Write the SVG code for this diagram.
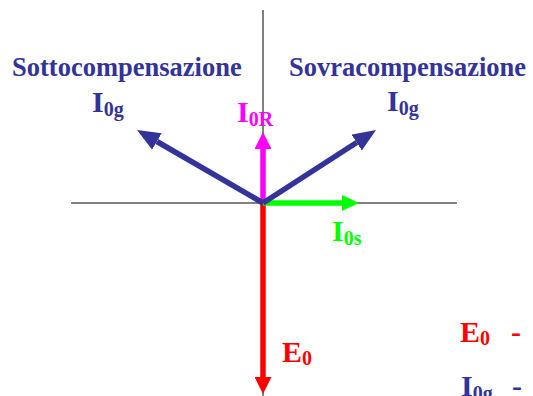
<svg xmlns="http://www.w3.org/2000/svg" width="533" height="396" viewBox="0 0 533 396">
<style>
.t{font-family:"Liberation Serif","Times New Roman",serif;font-weight:bold}
.hd{font-size:26.5px}
.big{font-size:30px}
.sub{font-size:20px}
.navy{fill:#333399}
.mag{fill:#ff00ff}
.grn{fill:#00ff00}
.red{fill:#ff0000}
.axis{stroke:#808080;stroke-width:2;fill:none}
.arr{fill:none;stroke-width:5.5;stroke-linecap:butt}
</style>
<defs>
<marker id="hNavy" markerUnits="userSpaceOnUse" markerWidth="23" markerHeight="19" refX="0" refY="9.5" orient="auto" viewBox="0 0 23 19"><path d="M0,0 L23,9.5 L0,19 z" fill="#333399"/></marker>
<marker id="hMag" markerUnits="userSpaceOnUse" markerWidth="17" markerHeight="17" refX="0" refY="8.5" orient="auto" viewBox="0 0 17 17"><path d="M0,0 L17,8.5 L0,17 z" fill="#ff00ff"/></marker>
<marker id="hGrn" markerUnits="userSpaceOnUse" markerWidth="17" markerHeight="16" refX="0" refY="8" orient="auto" viewBox="0 0 17 16"><path d="M0,0 L17,8 L0,16 z" fill="#00ff00"/></marker>
<marker id="hRed" markerUnits="userSpaceOnUse" markerWidth="17" markerHeight="17" refX="0" refY="8.5" orient="auto" viewBox="0 0 17 17"><path d="M0,0 L17,8.5 L0,17 z" fill="#ff0000"/></marker>
</defs>
<g id="axes">
<line class="axis" x1="71" y1="203" x2="457" y2="203"/>
<line class="axis" x1="263" y1="10" x2="263" y2="396"/>
</g>
<g id="connectors">
<line class="arr" stroke="#ff0000" x1="263" y1="203" x2="263" y2="377" marker-end="url(#hRed)"/>
<line class="arr" stroke="#ff00ff" x1="263" y1="203" x2="263" y2="149" marker-end="url(#hMag)"/>
<line class="arr" stroke="#00ff00" x1="263" y1="203" x2="342" y2="203" marker-end="url(#hGrn)"/>
<line class="arr" stroke="#333399" x1="263" y1="203" x2="156.9" y2="141.5" marker-end="url(#hNavy)"/>
<line class="arr" stroke="#333399" x1="263" y1="203" x2="356.7" y2="142.5" marker-end="url(#hNavy)"/>
</g>
<g id="sotto">
<text class="t navy hd" x="12" y="76">Sottocompensazione</text>
<text class="t navy" x="92" y="112"><tspan class="big">I</tspan><tspan class="sub" dy="4">0g</tspan></text>
</g>
<g id="sovra">
<text class="t navy hd" x="289" y="76">Sovracompensazione</text>
<text class="t navy" x="387" y="111"><tspan class="big">I</tspan><tspan class="sub" dy="4">0g</tspan></text>
</g>
<g id="i0r">
<text class="t mag" x="237" y="122"><tspan class="big">I</tspan><tspan class="sub" dy="4">0R</tspan></text>
</g>
<g id="i0s">
<text class="t grn" x="332" y="241"><tspan class="big">I</tspan><tspan class="sub" dy="4">0s</tspan></text>
</g>
<g id="e0">
<text class="t red" x="282" y="362"><tspan class="big">E</tspan><tspan class="sub" dy="3">0</tspan></text>
</g>
<g id="legend">
<text class="t red" x="460" y="342"><tspan class="big">E</tspan><tspan class="sub" dy="3">0</tspan></text>
<text class="t red big" x="511" y="342">-</text>
<text class="t navy" x="461" y="396"><tspan class="big">I</tspan><tspan class="sub" dy="4">0g</tspan></text>
<text class="t navy big" x="512" y="396">-</text>
</g>
</svg>
